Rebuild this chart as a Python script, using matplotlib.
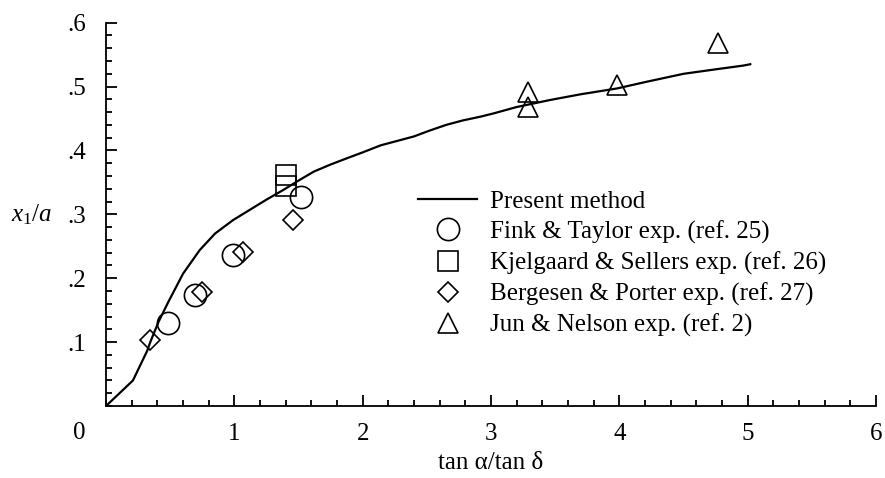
import matplotlib
matplotlib.use("Agg")
import matplotlib.pyplot as plt
from matplotlib.ticker import MultipleLocator, FixedLocator, FixedFormatter

plt.rcParams['font.family'] = ['Liberation Serif', 'DejaVu Serif']
plt.rcParams['mathtext.fontset'] = 'custom'
plt.rcParams['mathtext.rm'] = 'Liberation Serif'
plt.rcParams['mathtext.it'] = 'Liberation Serif:italic'

# ---- data ----
curve_x = [0, 0.1, 0.21, 0.32, 0.345, 0.41, 0.486, 0.6, 0.73, 0.85, 0.99, 1.12, 1.25,
           1.38, 1.51, 1.62, 1.75, 1.88, 2.0, 2.14, 2.27, 2.40, 2.52, 2.65, 2.78,
           2.92, 3.02, 3.2, 3.46, 3.7, 3.98, 4.2, 4.5, 4.75, 4.97, 5.02]
curve_y = [0, 0.019, 0.040, 0.086, 0.100, 0.132, 0.163, 0.207, 0.244, 0.270, 0.291,
           0.307, 0.323, 0.338, 0.354, 0.367, 0.378, 0.388, 0.397, 0.408, 0.415,
           0.422, 0.431, 0.440, 0.447, 0.453, 0.458, 0.468, 0.479, 0.488, 0.497,
           0.507, 0.520, 0.527, 0.533, 0.535]

fink_x = [0.48, 0.69, 0.99, 1.52]
fink_y = [0.130, 0.174, 0.236, 0.327]

kjel_x = [1.40, 1.40]
kjel_y = [0.361, 0.344]

berg_x = [0.345, 0.75, 1.07, 1.46]
berg_y = [0.103, 0.178, 0.241, 0.291]

jun_x = [3.29, 3.29, 3.98, 4.77]
jun_y = [0.492, 0.468, 0.502, 0.568]

xticks = [1, 2, 3, 4, 5, 6]
xtick_labels = ['1', '2', '3', '4', '5', '6']
yticks = [0.1, 0.2, 0.3, 0.4, 0.5, 0.6]
ytick_labels = ['.1', '.2', '.3', '.4', '.5', '.6']

labels = ['Present method', 'Fink & Taylor exp. (ref. 25)',
          'Kjelgaard & Sellers exp. (ref. 26)', 'Bergesen & Porter exp. (ref. 27)',
          'Jun & Nelson exp. (ref. 2)']

FS = 18
W, H = 885, 478
fig = plt.figure(figsize=(W / 100, H / 100), dpi=100)
ax = fig.add_axes([106 / W, 1 - 406 / H, 770 / W, (406 - 22.7) / H])

mk = dict(linestyle='none', markerfacecolor='none', markeredgecolor='black',
          markeredgewidth=1.2)
l0, = ax.plot(curve_x, curve_y, color='black', lw=1.6, label=labels[0])
l1, = ax.plot(fink_x, fink_y, marker='o', markersize=16, label=labels[1], **mk)
l2, = ax.plot(kjel_x, kjel_y, marker='s', markersize=14, label=labels[2], **mk)
l3, = ax.plot(berg_x, berg_y, marker='D', markersize=10.5, label=labels[3], **mk)
l4, = ax.plot(jun_x, jun_y, marker='^', markersize=14, label=labels[4], **mk)
for l in (l1, l2, l3, l4):
    l.set_clip_on(False)

ax.set_xlim(0, 6)
ax.set_ylim(0, 0.6)
ax.spines['top'].set_visible(False)
ax.spines['right'].set_visible(False)
for s in ('left', 'bottom'):
    ax.spines[s].set_linewidth(1.3)

ax.xaxis.set_major_locator(FixedLocator(xticks))
ax.xaxis.set_major_formatter(FixedFormatter(xtick_labels))
ax.yaxis.set_major_locator(FixedLocator(yticks))
ax.yaxis.set_major_formatter(FixedFormatter(ytick_labels))
ax.xaxis.set_minor_locator(MultipleLocator(0.2))
ax.yaxis.set_minor_locator(MultipleLocator(0.02))
ax.tick_params(which='both', direction='in', width=1.3, labelsize=FS, colors='black')
ax.tick_params(which='major', length=8)
ax.tick_params(which='minor', length=4.5)
ax.tick_params(axis='x', which='major', pad=12)
ax.tick_params(axis='y', which='major', pad=14)

ax.annotate('0', xy=(0, 0), xytext=(-19.4, -19.4), textcoords='offset points',
            ha='center', va='center', fontsize=FS)

ax.set_xlabel('tan α/tan δ', fontsize=FS)
ax.xaxis.set_label_coords(0.5, -57 / 383.3)
ax.xaxis.label.set_va('center')
ax.set_ylabel(r'$x_1/a$', fontsize=FS, rotation=0)
ax.yaxis.set_label_coords((32 - 106) / 770, 0.5)
ax.yaxis.label.set_va('center')
ax.yaxis.label.set_ha('center')

leg = ax.legend(handles=[l0, l1, l2, l3, l4], loc='upper left',
                bbox_to_anchor=(418 / W, 1 - 190 / H), bbox_transform=fig.transFigure,
                frameon=False, fontsize=FS, borderpad=0, borderaxespad=0,
                handlelength=2.36, handletextpad=0.5, labelspacing=0.31,
                numpoints=1)
for h in leg.legend_handles:
    try:
        h.set_clip_on(False)
    except Exception:
        pass

fig.savefig('out.png', dpi=100)
